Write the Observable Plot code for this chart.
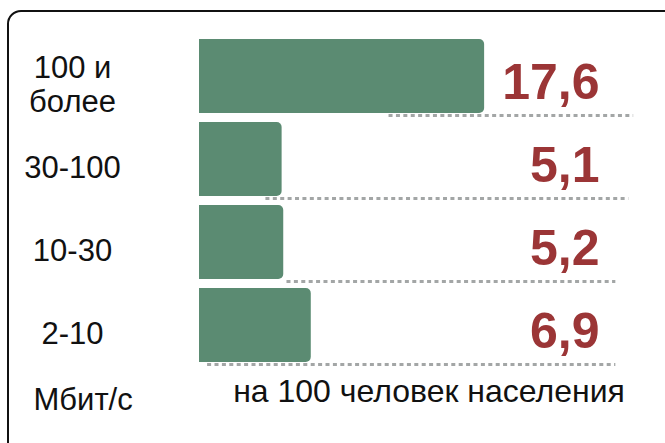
<!DOCTYPE html>
<html>
<head>
<meta charset="utf-8">
<script src="https://cdn.jsdelivr.net/npm/d3@7"></script>
<script src="https://cdn.jsdelivr.net/npm/@observablehq/plot@0.6"></script>
<style>
  html, body { margin: 0; padding: 0; background: #fff; overflow: hidden; }
  #wrap { position: relative; width: 665px; height: 443px; overflow: hidden; }
  #frame { position: absolute; left: 7px; top: 10px; width: 680px; height: 460px;
           border: 2px solid #111; border-radius: 14px; pointer-events: none; }
  #chart svg { display: block; }
</style>
</head>
<body>
<div id="wrap"><div id="chart"></div><div id="frame"></div></div>
<script>
// Data
const categories = ["100 и\nболее", "30-100", "10-30", "2-10"];
const values = [17.6, 5.1, 5.2, 6.9];
const valueLabels = ["17,6", "5,1", "5,2", "6,9"];
const leaderFrom = [11.7, 4.1, 5.4, 0.5];
const leaderTo = [26.8, 26.5, 25.7, 25.7];
const unitLabel = "Мбит/с";
const perLabel = "на 100 человек населения";

const rows = categories.map((c, i) => ({
  cat: c, value: values[i], label: valueLabels[i], from: leaderFrom[i], to: leaderTo[i]
}));

const font = "'Liberation Sans', Arial, sans-serif";

const chart = Plot.plot({
  width: 665,
  height: 443,
  marginLeft: 199,
  marginRight: 61,
  marginTop: 35,
  marginBottom: 76,
  style: { fontFamily: font, background: "transparent", color: "#111" },
  x: { domain: [0, 25], axis: null },
  y: { domain: categories, axis: null, paddingInner: 0.108, paddingOuter: 0.054 },
  marks: [
    Plot.ruleY(rows, {
      y: "cat", x1: "from", x2: "to", dy: 39,
      stroke: "#a3a6a6", strokeWidth: 3, strokeDasharray: "4,3.4"
    }),
    Plot.barX(rows, {
      x: "value", y: "cat", fill: "#5b8b72", rx: 5, insetLeft: -12, clip: true
    }),
    Plot.text(rows, {
      y: "cat", text: "label", frameAnchor: "right", textAnchor: "end", dx: -5, dy: 6,
      fill: "#9b3536", fontSize: 50, fontWeight: "bold"
    }),
    Plot.text(rows, {
      y: "cat", text: "cat", frameAnchor: "left", textAnchor: "middle", dx: -127, dy: 8,
      fill: "#111", fontSize: 31, lineHeight: 1.08
    }),
    Plot.text([unitLabel], {
      text: d => d, frameAnchor: "bottom-left", textAnchor: "start", dx: -166, dy: 42,
      fill: "#111", fontSize: 31
    }),
    Plot.text([perLabel], {
      text: d => d, frameAnchor: "bottom", textAnchor: "middle", dx: 27, dy: 34,
      fill: "#111", fontSize: 32
    })
  ]
});
document.getElementById("chart").appendChild(chart);
</script>
</body>
</html>
